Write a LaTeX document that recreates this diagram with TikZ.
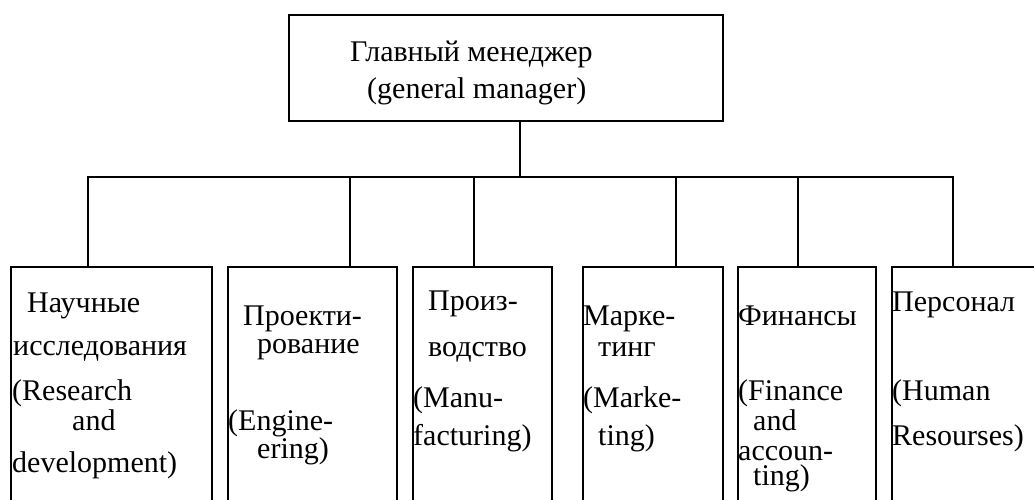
\documentclass[tikz,border=0pt]{standalone}
\usepackage{fontspec}
\setmainfont{Liberation Serif}
\begin{document}
\begin{tikzpicture}[x=1pt,y=-1pt,
  box/.style={draw,line width=1.8pt,rectangle,inner sep=0pt,anchor=north west},
  ln/.style={line width=1.8pt},
  txt/.style={anchor=base west,inner sep=0pt,font=\fontsize{30}{36}\selectfont}]
\useasboundingbox (0,0) rectangle (1034,499);
\clip (0,0) rectangle (1034,499);
% boxes
\node[box,minimum width=434pt,minimum height=106pt] (top) at (288,14) {};
\node[box,minimum width=201pt,minimum height=260pt] (b1) at (10,266) {};
\node[box,minimum width=169pt,minimum height=260pt] (b2) at (227,266) {};
\node[box,minimum width=139pt,minimum height=260pt] (b3) at (412,266) {};
\node[box,minimum width=140pt,minimum height=260pt] (b4) at (582,266) {};
\node[box,minimum width=138pt,minimum height=260pt] (b5) at (737,266) {};
\node[box,minimum width=180pt,minimum height=260pt] (b6) at (891,266) {};
% bus
\coordinate (j) at (520,177);
\coordinate (d1) at (88,177);
\coordinate (d2) at (350,177);
\coordinate (d3) at (474,177);
\coordinate (d4) at (676,177);
\coordinate (d5) at (798,177);
\coordinate (d6) at (953,177);
\draw[ln] (j |- top.south) -- (j);
\draw[ln,line cap=rect] (d1) -- (d6);
\draw[ln] (d1) -- (d1 |- b1.north);
\draw[ln] (d2) -- (d2 |- b2.north);
\draw[ln] (d3) -- (d3 |- b3.north);
\draw[ln] (d4) -- (d4 |- b4.north);
\draw[ln] (d5) -- (d5 |- b5.north);
\draw[ln] (d6) -- (d6 |- b6.north);
% texts
\node[txt] (t1) at (350,61) {Главный менеджер};
\node[txt] (t2) at (367,98) {(general manager)};
\node[txt] (a1) at (27,312) {Научные};
\node[txt] (a2) at (13,355) {исследования};
\node[txt] (a3) at (12,400) {(Research};
\node[txt] (a4) at (72,430) {and};
\node[txt] (a5) at (12,472) {development)};
\node[txt] (c1) at (243,325) {Проекти-};
\node[txt] (c2) at (257,353) {рование};
\node[txt] (c3) at (228,430) {(Engine-};
\node[txt] (c4) at (257,458) {ering)};
\node[txt] (e1) at (428,310) {Произ-};
\node[txt] (e2) at (428,356) {водство};
\node[txt] (e3) at (413,407) {(Manu-};
\node[txt] (e4) at (413,445) {facturing)};
\node[txt] (f1) at (583,325) {Марке-};
\node[txt] (f2) at (598,356) {тинг};
\node[txt] (f3) at (583,407) {(Marke-};
\node[txt] (f4) at (598,445) {ting)};
\node[txt] (g1) at (738,325) {Финансы};
\node[txt] (g2) at (738,400) {(Finance};
\node[txt] (g3) at (753,430) {and};
\node[txt] (g4) at (738,460) {accoun-};
\node[txt] (g5) at (753,485) {ting)};
\node[txt] (h1) at (892,311) {Персонал};
\node[txt] (h2) at (892,400) {(Human};
\node[txt] (h3) at (892,445) {Resourses)};
\end{tikzpicture}
\end{document}
